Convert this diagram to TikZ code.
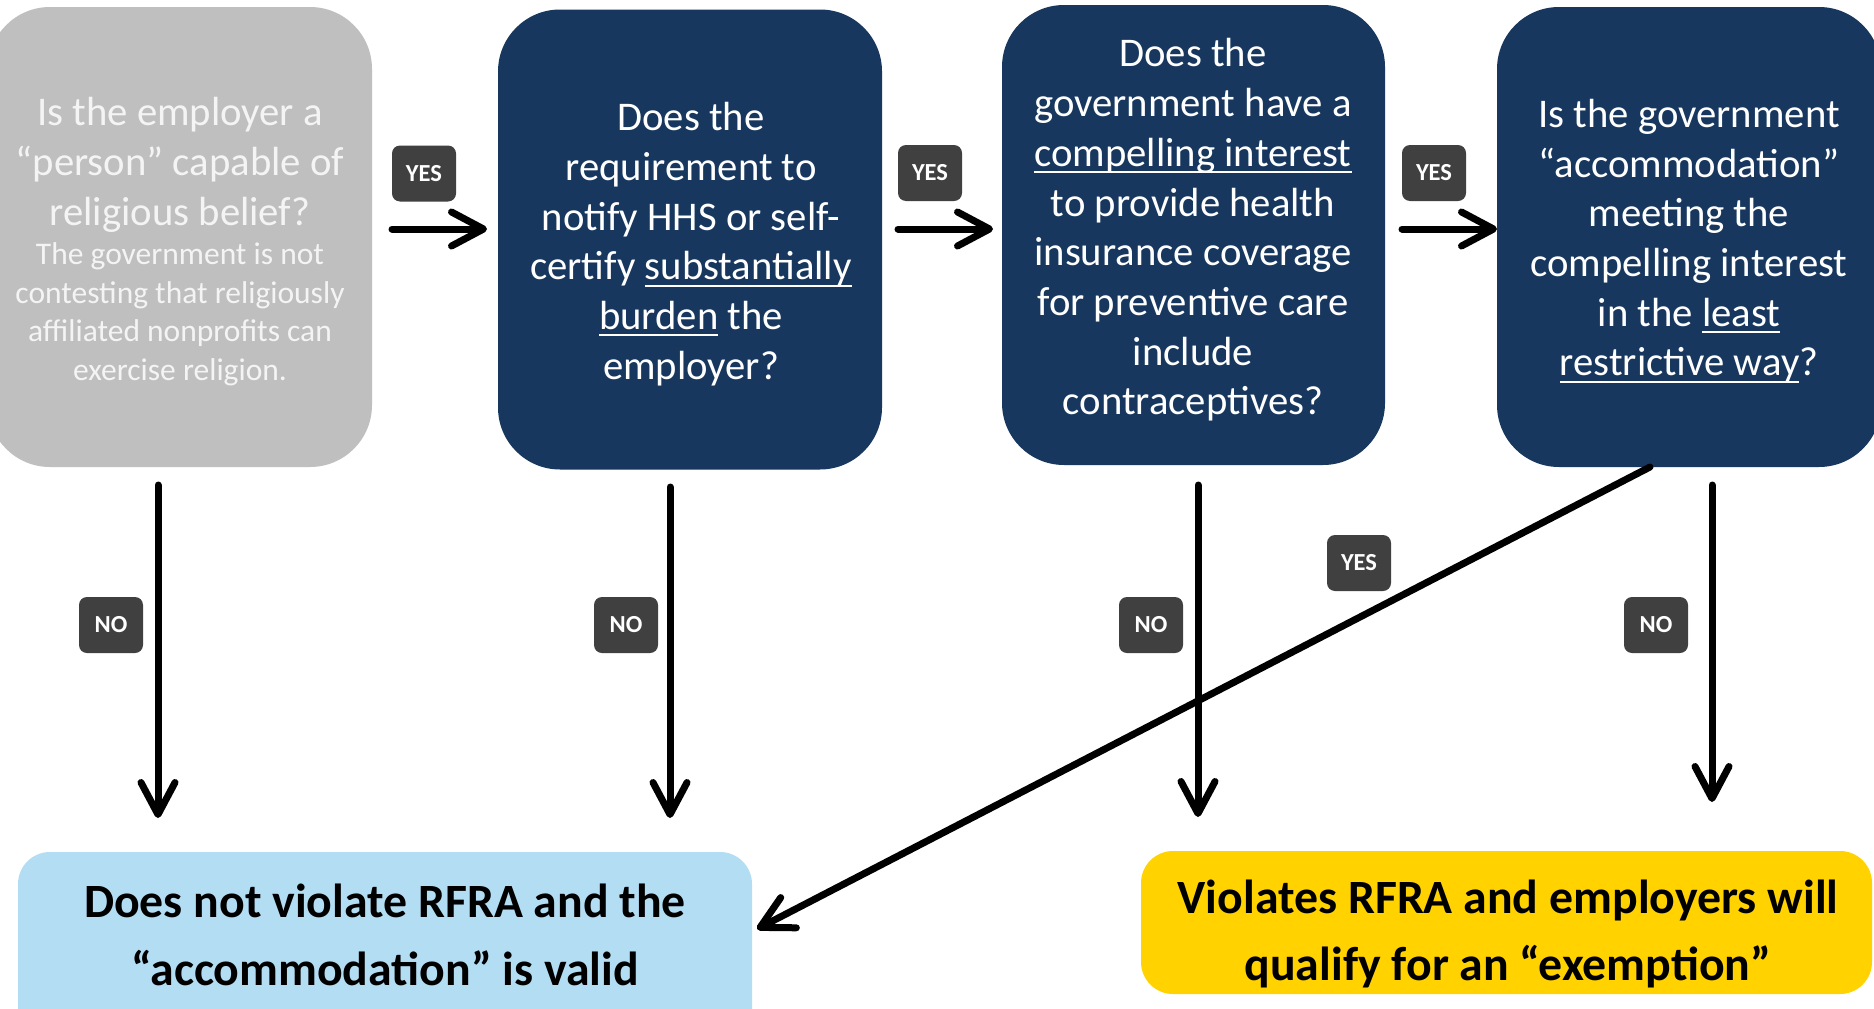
\documentclass[tikz,border=0pt]{standalone}
\usepackage{fontspec}
\setmainfont{Carlito}
\usetikzlibrary{arrows.meta}
\definecolor{navy}{HTML}{17375E}
\definecolor{qgray}{HTML}{BFBFBF}
\definecolor{lblue}{HTML}{B3DDF3}
\definecolor{gold}{HTML}{FFD200}
\definecolor{tagc}{HTML}{404040}
\definecolor{offwhite}{HTML}{F4F4F4}
\newsavebox\ulbox
\newcommand\myul[1]{\sbox\ulbox{#1}\rlap{\rule[-0.17em]{\wd\ulbox}{0.05em}}\usebox\ulbox}
\newcommand\smallq{\fontsize{31.5}{38.4}\selectfont}
\begin{document}
\begin{tikzpicture}[x=1pt,y=-1pt,
  qbox/.style={rounded corners=62pt, minimum width=384pt, minimum height=460pt, inner sep=0pt, draw=none},
  qtext/.style={text=white, align=center, inner sep=0pt, font=\fontsize{40.7}{49.7}\selectfont},
  abox/.style={rounded corners=32pt, inner sep=0pt, draw=none},
  atext/.style={text=black, align=center, inner sep=0pt, font=\bfseries\fontsize{47.8}{67.5}\selectfont},
  tagbox/.style={fill=tagc, rounded corners=8pt, minimum width=64pt, minimum height=56pt, inner sep=0pt, text=white, font=\bfseries\fontsize{24.5}{29}\selectfont},
  arr/.style={line width=7pt, line cap=round, -{Straight Barb[length=32pt,width=34pt,round]}}
]
\useasboundingbox (0,0) rectangle (1874,1009);
\fill[white] (0,0) rectangle (1874,1009);

% question boxes
\node[qbox, fill=qgray] (q1) at (180,237) {};
\node[qbox, fill=navy] (q2) at (690,239.5) {};
\node[qbox, fill=navy, minimum width=383pt] (q3) at (1193.5,235) {};
\node[qbox, fill=navy] (q4) at (1689,237) {};

% answer boxes
\node[abox, fill=lblue, minimum width=734pt, minimum height=190pt] (a1) at (385,947) {};
\node[abox, fill=gold, minimum width=731pt, minimum height=143pt] (a2) at (1506.5,922.5) {};

% texts
\node[qtext, text=offwhite] (q1t) at (180,241.5) {Is the employer a\\ “person” capable of\\ religious belief?\\[-10pt] {\smallq The government is not}\\[-11.3pt] {\smallq contesting that religiously}\\[-11.3pt] {\smallq affiliated nonprofits can}\\[-11.3pt] {\smallq exercise religion.}};
\node[qtext] (q2t) at (691,244) {Does the\\ requirement to\\ notify HHS or self-\\ certify \myul{substantially}\\ \myul{burden} the\\ employer?};
\node[qtext] (q3t) at (1193,230) {Does the\\ government have a\\ \myul{compelling interest}\\ to provide health\\ insurance coverage\\ for preventive care\\ include\\ contraceptives?};
\node[qtext] (q4t) at (1689,241) {Is the government\\ “accommodation”\\ meeting the\\ compelling interest\\ in the \myul{least}\\ \myul{restrictive way}?};
\node[atext] (a1t) at (385,935) {Does not violate RFRA and the\\ “accommodation” is valid};
\node[atext] (a2t) at (1508,934) {Violates RFRA and employers will\\ qualify for an “exemption”};

% connector end points
\coordinate (h1s) at (392,229); \coordinate (h1e) at (487,229);
\coordinate (h2s) at (898,229); \coordinate (h2e) at (993,229);
\coordinate (h3s) at (1402,229); \coordinate (h3e) at (1497,229);
\coordinate (v1s) at (158,485); \coordinate (v1e) at (158,818);
\coordinate (v2s) at (670,487); \coordinate (v2e) at (670,818);
\coordinate (v3s) at (1198,485); \coordinate (v3e) at (1198,817);
\coordinate (v4s) at (1712,485); \coordinate (v4e) at (1712,802);
\coordinate (d0) at (1650,467); \coordinate (d1) at (757,929);

\draw[arr] (h1s) -- (h1e);
\draw[arr] (h2s) -- (h2e);
\draw[arr] (h3s) -- (h3e);
\draw[arr] (v1s) -- (v1e);
\draw[arr] (v2s) -- (v2e);
\draw[arr] (v3s) -- (v3e);
\draw[arr] (v4s) -- (v4e);
\draw[arr] (d0) -- (d1);

% labels
\node[tagbox] (y1) at (424,173.5) {YES};
\node[tagbox] (y2) at (930,173) {YES};
\node[tagbox] (y3) at (1434,173) {YES};
\node[tagbox] (y4) at (1359,563) {YES};
\node[tagbox] (n1) at (111,625) {NO};
\node[tagbox] (n2) at (626,625) {NO};
\node[tagbox] (n3) at (1151,625) {NO};
\node[tagbox] (n4) at (1656,625) {NO};
\end{tikzpicture}
\end{document}
